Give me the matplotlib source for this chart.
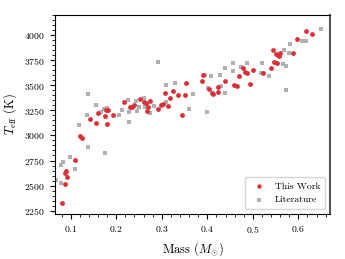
import matplotlib
matplotlib.use("Agg")
import matplotlib.pyplot as plt
from matplotlib.ticker import MultipleLocator

plt.rcParams['font.family'] = 'serif'
plt.rcParams['font.serif'] = ['cmr10']
plt.rcParams['mathtext.fontset'] = 'cm'
plt.rcParams['axes.formatter.use_mathtext'] = True

# this work: mass (Msun), Teff (K)
work_mass = [0.0809, 0.0868, 0.0912, 0.0897, 0.0883, 0.1088, 0.1213, 0.1242,
             0.1433, 0.1557, 0.1796, 0.1594, 0.1748, 0.1763, 0.1821, 0.1924,
             0.2166, 0.2298, 0.2342, 0.2379, 0.2511, 0.2613, 0.2643, 0.2731,
             0.2694, 0.2665, 0.2925, 0.2980, 0.3031, 0.3145, 0.3185, 0.3061,
             0.3251, 0.3347, 0.3512, 0.3537, 0.3446, 0.3910, 0.3875, 0.4043,
             0.4095, 0.4131, 0.4241, 0.4241, 0.4395, 0.4586, 0.4645, 0.4696,
             0.4777, 0.4835, 0.4865, 0.4945, 0.5011, 0.5231, 0.5400, 0.5459,
             0.5525, 0.5444, 0.5503, 0.5547, 0.5576, 0.5605, 0.5891, 0.5979,
             0.6163, 0.6309]
work_teff = [2323, 2516, 2586, 2648, 2628, 2755, 2999, 2979,
             3160, 3123, 3117, 3227, 3195, 3253, 3253, 3200,
             3337, 3281, 3284, 3301, 3364, 3334, 3321, 3347,
             3281, 3245, 3262, 3304, 3311, 3297, 3374, 3426,
             3446, 3407, 3406, 3520, 3205, 3602, 3546, 3463,
             3426, 3416, 3483, 3430, 3543, 3503, 3496, 3589,
             3675, 3632, 3625, 3513, 3652, 3622, 3675, 3732,
             3725, 3848, 3811, 3798, 3788, 3821, 3824, 3957,
             4043, 4013]

# literature values
lit_mass = [0.0685, 0.0780, 0.0780, 0.0824, 0.0985, 0.1088, 0.1176, 0.1380,
            0.1744, 0.1385, 0.1359, 0.1554, 0.1660, 0.1726, 0.1785, 0.2049,
            0.2133, 0.2287, 0.2254, 0.2269, 0.2441, 0.2445, 0.2496, 0.2606,
            0.2635, 0.2738, 0.2826, 0.2907, 0.3090, 0.3295, 0.3101, 0.3677,
            0.3589, 0.3985, 0.3948, 0.4087, 0.4014, 0.4285, 0.4293, 0.4388,
            0.4388, 0.4564, 0.4564, 0.4740, 0.4879, 0.5196, 0.5180, 0.5363,
            0.5671, 0.5723, 0.5723, 0.5686, 0.5796, 0.5818, 0.6089, 0.6170,
            0.6493]
lit_teff = [2557, 2524, 2708, 2735, 2785, 2665, 3105, 2887,
            2827, 3414, 3205, 3302, 3235, 3261, 3274, 3205,
            3255, 3133, 3351, 3232, 3344, 3242, 3282, 3369,
            3281, 3225, 3294, 3732, 3503, 3523, 3331, 3414,
            3264, 3230, 3602, 3592, 3473, 3602, 3496, 3423,
            3672, 3719, 3639, 3677, 3722, 3722, 3619, 3589,
            3712, 3695, 3456, 3851, 3818, 3908, 3940, 3940,
            4060]

fig = plt.figure(figsize=(3.45, 2.59), dpi=100)
ax = fig.add_axes([0.159, 0.173, 0.798, 0.769])

ax.scatter(work_mass, work_teff, s=12, marker='o', color='#d93038',
           linewidths=0, label='This Work', zorder=3)
ax.scatter(lit_mass, lit_teff, s=12, marker='s', color='#a8a8a8',
           linewidths=0, alpha=0.9, label='Literature', zorder=2)

ax.set_xlim(0.065, 0.67)
ax.set_ylim(2215, 4200)
ax.xaxis.set_major_locator(MultipleLocator(0.1))
ax.xaxis.set_minor_locator(MultipleLocator(0.02))
ax.yaxis.set_major_locator(MultipleLocator(250))
ax.yaxis.set_minor_locator(MultipleLocator(50))
ax.tick_params(which='major', length=3.5, width=0.8, labelsize=7)
ax.tick_params(which='minor', length=2, width=0.6)

ax.spines['right'].set_color('#555555')
ax.spines['right'].set_linewidth(1.5)

ax.set_xlabel(r'Mass ($M_{\odot}$)', fontsize=9)
ax.set_ylabel(r'$T_{\rm eff}$ (K)', fontsize=9)

ax.legend(loc='lower right', fontsize=7, handletextpad=0.6,
          borderpad=0.5, labelspacing=0.5, markerscale=0.9)

fig.savefig('out.png', dpi=100)
